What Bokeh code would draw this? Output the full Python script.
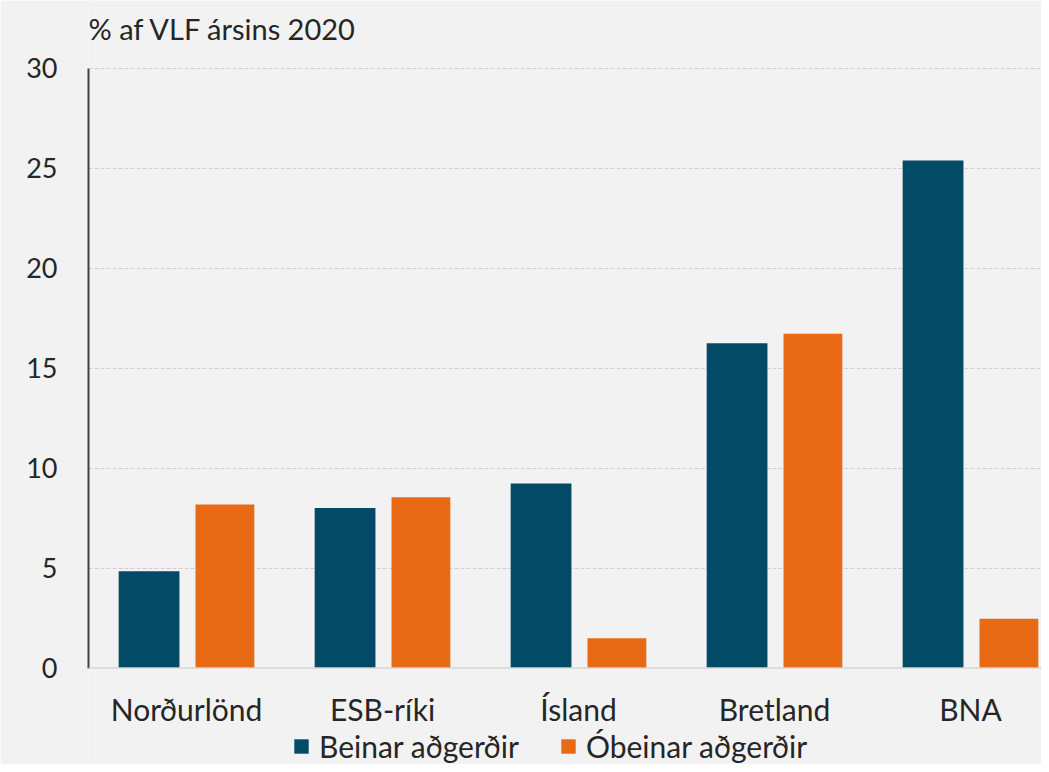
import numpy as np
from bokeh.plotting import figure
from bokeh.models import (ColumnDataSource, Range1d, FixedTicker, Label,
                          Legend, LegendItem, Span)
from bokeh.core.properties import value
from bokeh.embed import file_html
from bokeh.resources import INLINE

categories = ["Norðurlönd", "ESB-ríki", "Ísland", "Bretland", "BNA"]
beinar = [4.84, 8.0, 9.22, 16.24, 25.38]
obeinar = [8.18, 8.54, 1.49, 16.71, 2.46]
y_ticks = [0, 5, 10, 15, 20, 25, 30]
series_names = ["Beinar aðgerðir", "Óbeinar aðgerðir"]
title_text = "% af VLF ársins 2020"

BLUE = "#034a66"
ORANGE = "#e96a14"
BG = "#f2f2f2"
FONT = "Lato"
TXT = "#262626"

# layout (pixels)
W, H = 1041, 764
LEFT = 88
CAT_PX = 196.0
Y0_PX = 667.5
PX_PER_UNIT = 20.0

x_end = (W - LEFT) / CAT_PX
y_end = Y0_PX / PX_PER_UNIT
y_start = -(H - Y0_PX) / PX_PER_UNIT

xc = np.arange(len(categories)) + 0.5
src = ColumnDataSource(dict(cat=categories, xc=xc, xb=xc - 0.191,
                            xo=xc + 0.196, b=beinar, o=obeinar))

p = figure(x_range=Range1d(0, x_end), y_range=Range1d(y_start, y_end),
           width=W, height=H, output_backend="svg",
           toolbar_location=None, x_axis_location=None,
           min_border_left=LEFT, min_border_right=0,
           min_border_top=0, min_border_bottom=0)
p.background_fill_color = BG
p.border_fill_color = BG
p.outline_line_color = None

p.xgrid.grid_line_color = None
p.ygrid.ticker = FixedTicker(ticks=y_ticks[1:])
p.ygrid.grid_line_color = "#d0d0d0"
p.ygrid.grid_line_dash = "4 2"
p.ygrid.grid_line_width = 1

p.add_layout(Span(location=0, dimension="width", line_color="#d6d6d6",
                  line_width=1.5))

r1 = p.vbar(x="xb", top="b", width=0.31, source=src,
            fill_color=BLUE, line_color=None)
r2 = p.vbar(x="xo", top="o", width=0.30, source=src,
            fill_color=ORANGE, line_color=None)

p.yaxis.ticker = FixedTicker(ticks=y_ticks)
p.yaxis.bounds = (0, 30)
p.yaxis.axis_line_color = "#404040"
p.yaxis.axis_line_width = 2
p.yaxis.major_tick_line_color = None
p.yaxis.minor_tick_line_color = None
p.yaxis.major_label_standoff = 25
p.yaxis.major_label_text_font = FONT
p.yaxis.major_label_text_font_size = "27px"
p.yaxis.major_label_text_color = TXT

p.text(x="xc", y=0, text="cat", source=src, y_offset=40.5,
       text_align="center", text_baseline="middle",
       text_font=value(FONT), text_font_size="30px", text_color=TXT)

title = Label(x=0, y=(Y0_PX - 28) / PX_PER_UNIT, text=title_text,
              text_font=FONT, text_font_size="29px", text_color=TXT,
              text_baseline="middle", text_align="left")
p.add_layout(title)

legend = Legend(items=[LegendItem(label=series_names[0], renderers=[r1]),
                       LegendItem(label=series_names[1], renderers=[r2])],
                location=(204, 0), orientation="horizontal",
                background_fill_alpha=0, border_line_color=None,
                label_text_font=FONT, label_text_font_size="30px",
                label_text_color=TXT,
                glyph_width=18, glyph_height=18, label_standoff=9,
                spacing=40, padding=0, margin=0)
p.add_layout(legend)

open("out.html", "w").write(file_html(p, INLINE))
